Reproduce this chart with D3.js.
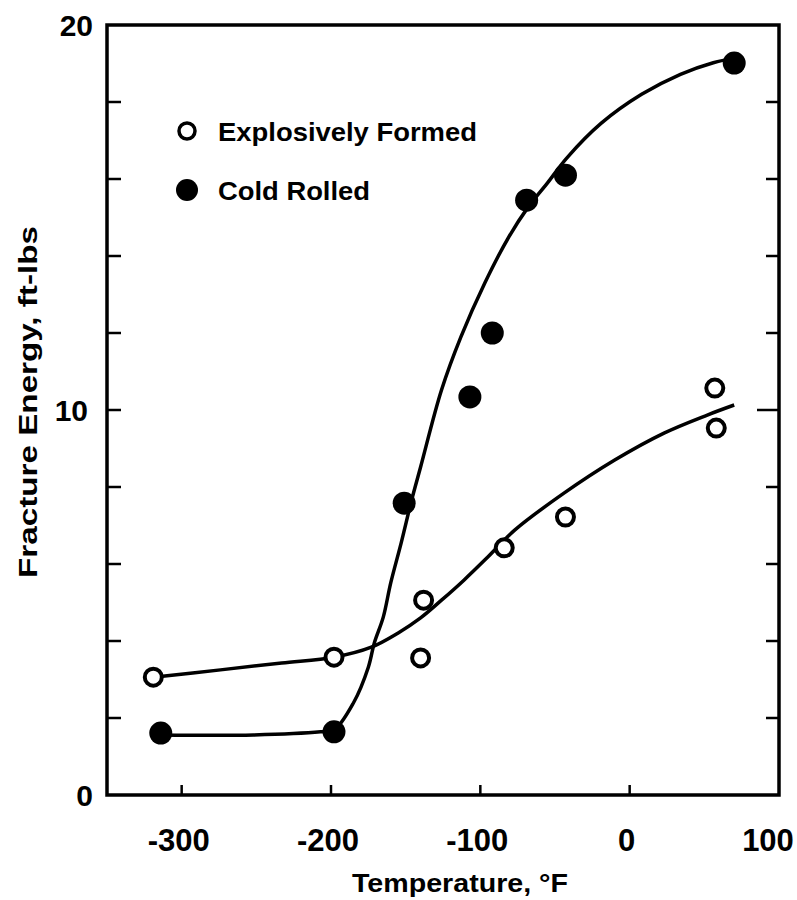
<!DOCTYPE html>
<html>
<head>
<meta charset="utf-8">
<script src="https://cdn.jsdelivr.net/npm/d3@7"></script>
<style>
  body { margin: 0; background: #fff; }
  text { font-family: "Liberation Sans", Arial, sans-serif; font-weight: bold; fill: #000; }
</style>
</head>
<body>
<script>
'use strict';

// measured points, temperature (F) vs fracture energy (ft-lbs)
let explosiveTemp   = [-319, -198, -138, -140, -84, -43, 57, 58];
let explosiveEnergy = [3.06, 3.58, 5.06, 3.56, 6.42, 7.22, 10.57, 9.53];

let rolledTemp   = [-314, -198, -151, -107, -92, -69, -43, 70];
let rolledEnergy = [1.61, 1.64, 7.58, 10.34, 12.0, 15.45, 16.1, 19.01];

// hand drawn fit curves
let explosiveCurveTemp   = [-319, -274, -233, -198, -173, -155, -140, -126, -111, -95, -77, -44, -10, 23, 52, 70];
let explosiveCurveEnergy = [3.06, 3.25, 3.43, 3.58, 3.84, 4.21, 4.60, 5.06, 5.58, 6.18, 6.88, 7.84, 8.70, 9.40, 9.87, 10.13];

let rolledCurveTemp   = [-314, -252, -207, -198, -185, -175, -171, -165, -160, -153, -146, -140, -126, -113, -97, -81, -68, -55, -42, -19, 8, 34, 56, 70];
let rolledCurveEnergy = [1.56, 1.56, 1.64, 1.69, 2.39, 3.32, 3.95, 4.62, 5.51, 6.55, 7.66, 8.52, 10.52, 11.9, 13.3, 14.49, 15.27, 15.9, 16.55, 17.45, 18.2, 18.72, 19.02, 19.14];

let xTicks = [-300, -200, -100, 0];
let xLabels = [-300, -200, -100, 0, 100];
let yTicks = [2, 4, 6, 8, 10, 12, 14, 16, 18];
let yLabels = [0, 10, 20];

let svgWidth = 797, svgHeight = 900;
let box = { left: 107, right: 779, top: 25, bottom: 795 };

let xScale = d3.scaleLinear().domain([-350, 100]).range([box.left, box.right]);
let yScale = d3.scaleLinear().domain([0, 20]).range([box.bottom, box.top]);

let svg = d3.select('body').append('svg')
  .attr('width', svgWidth)
  .attr('height', svgHeight);

svg.append('rect').attr('width', svgWidth).attr('height', svgHeight).attr('fill', '#fff');

// inward ticks
svg.append('g').selectAll('line').data(xTicks).enter().append('line')
  .attr('x1', d => xScale(d)).attr('x2', d => xScale(d))
  .attr('y1', box.bottom).attr('y2', box.bottom - 10)
  .attr('stroke', '#000').attr('stroke-width', 2.5);

svg.append('g').selectAll('line').data(yTicks).enter().append('line')
  .attr('x1', box.left).attr('x2', box.left + 14)
  .attr('y1', d => yScale(d)).attr('y2', d => yScale(d))
  .attr('stroke', '#000').attr('stroke-width', 2.5);

svg.append('g').selectAll('line').data(yTicks).enter().append('line')
  .attr('x1', box.right).attr('x2', d => box.right - (d === 10 ? 22 : 13))
  .attr('y1', d => yScale(d)).attr('y2', d => yScale(d))
  .attr('stroke', '#000').attr('stroke-width', 2.5);

// frame
svg.append('rect')
  .attr('x', box.left).attr('y', box.top)
  .attr('width', box.right - box.left).attr('height', box.bottom - box.top)
  .attr('fill', 'none').attr('stroke', '#000').attr('stroke-width', 3.5);

// tick labels
svg.append('g').selectAll('text').data(xLabels).enter().append('text')
  .attr('x', d => xScale(d) - (d === 100 ? 11 : 3)).attr('y', 851)
  .attr('text-anchor', 'middle').attr('font-size', 31)
  .text(d => d < 0 ? '-' + Math.abs(d) : d);

svg.append('g').selectAll('text').data(yLabels).enter().append('text')
  .attr('x', d => d === 10 ? 88 : 93).attr('y', d => yScale(d) + 11)
  .attr('text-anchor', 'end').attr('font-size', 30)
  .text(d => d);

// axis titles
svg.append('text')
  .attr('x', 352).attr('y', 892)
  .attr('font-size', 25).attr('textLength', 216).attr('lengthAdjust', 'spacingAndGlyphs')
  .text('Temperature, °F');

svg.append('text')
  .attr('transform', 'translate(37,578) rotate(-90)')
  .attr('font-size', 25).attr('textLength', 352).attr('lengthAdjust', 'spacingAndGlyphs')
  .text('Fracture Energy,  ft-lbs');

// curves
let lineGen = d3.line().curve(d3.curveCatmullRom.alpha(0.5)).x(d => xScale(d[0])).y(d => yScale(d[1]));

svg.append('path').datum(d3.zip(explosiveCurveTemp, explosiveCurveEnergy))
  .attr('fill', 'none').attr('stroke', '#000').attr('stroke-width', 3.5).attr('d', lineGen);

svg.append('path').datum(d3.zip(rolledCurveTemp, rolledCurveEnergy))
  .attr('fill', 'none').attr('stroke', '#000').attr('stroke-width', 3.5).attr('d', lineGen);

// points
svg.append('g').selectAll('circle').data(d3.zip(explosiveTemp, explosiveEnergy)).enter().append('circle')
  .attr('cx', d => xScale(d[0])).attr('cy', d => yScale(d[1])).attr('r', 8.5)
  .attr('fill', '#fff').attr('stroke', '#000').attr('stroke-width', 4);

svg.append('g').selectAll('circle').data(d3.zip(rolledTemp, rolledEnergy)).enter().append('circle')
  .attr('cx', d => xScale(d[0])).attr('cy', d => yScale(d[1])).attr('r', 11.5)
  .attr('fill', '#000');

// legend
let legend = svg.append('g');
legend.append('circle').attr('cx', 187).attr('cy', 131).attr('r', 8)
  .attr('fill', '#fff').attr('stroke', '#000').attr('stroke-width', 3.5);
legend.append('text').attr('x', 218).attr('y', 141)
  .attr('font-size', 25).attr('textLength', 259).attr('lengthAdjust', 'spacingAndGlyphs')
  .text('Explosively Formed');
legend.append('circle').attr('cx', 187).attr('cy', 190).attr('r', 11).attr('fill', '#000');
legend.append('text').attr('x', 218).attr('y', 200)
  .attr('font-size', 25).attr('textLength', 152).attr('lengthAdjust', 'spacingAndGlyphs')
  .text('Cold Rolled');
</script>
</body>
</html>
